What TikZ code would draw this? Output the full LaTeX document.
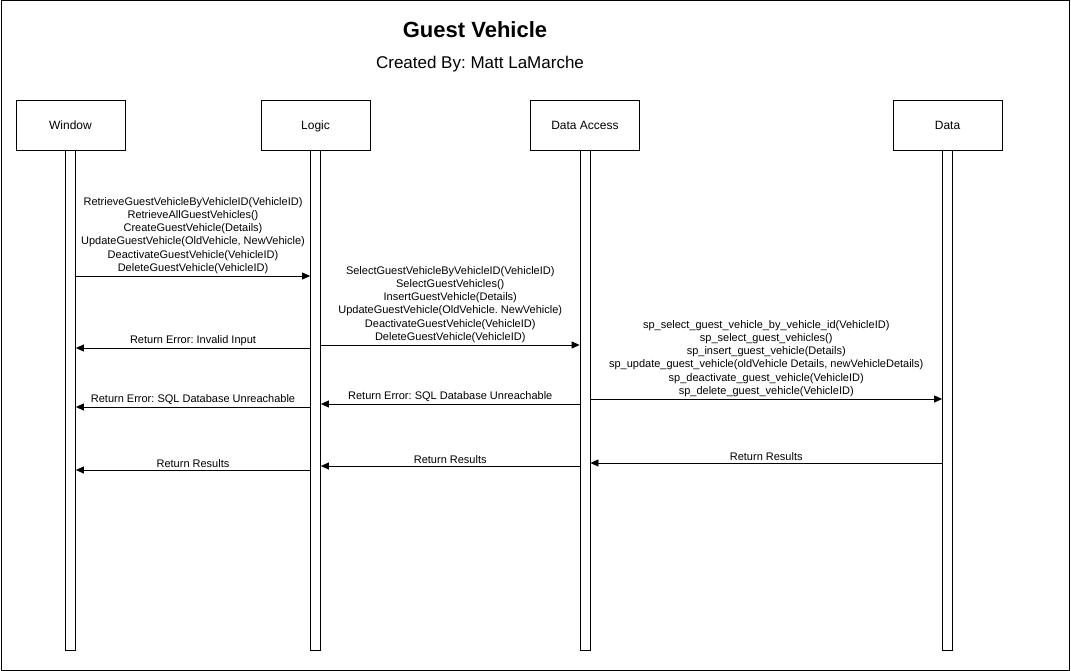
\documentclass[tikz,border=0pt]{standalone}
\usepackage{fontspec}
\setmainfont{Liberation Sans}
\frenchspacing
\usetikzlibrary{arrows.meta,positioning}
\begin{document}
\begin{tikzpicture}[x=1pt,y=-1pt,
    actor/.style={draw,line width=0.8pt,minimum width=109pt,minimum height=50pt,text height=8.6pt,text depth=0pt,font=\fontsize{12}{14}\selectfont},
    lifeline/.style={draw,line width=0.8pt,minimum width=10pt,minimum height=500pt,inner sep=0pt},
    msg/.style={line width=0.8pt,-{Triangle[length=8pt,width=7pt]}},
    lbl/.style={above,inner sep=2pt,align=center,font=\fontsize{11}{13.2}\selectfont}]
        \useasboundingbox (0,0) rectangle (1071,671);
        \draw[line width=1pt] (1,1) rectangle (1069,670);
        % title
        \node[font=\bfseries\fontsize{22}{26}\selectfont] (title) at (475,30) {Guest Vehicle};
        \node[font=\fontsize{17}{20}\selectfont] (author) at (480,64) {Created By: Matt LaMarche};
        % actors
        \node[actor] (win) at (70.5,125) {Window};
        \node[actor] (logic) at (315.5,125) {Logic};
        \node[actor] (dal) at (585,125) {Data Access};
        \node[actor] (data) at (947.5,125) {Data};
        % lifelines
        \node[lifeline,below=0pt of win] (winL) {};
        \node[lifeline,below=0pt of logic] (logicL) {};
        \node[lifeline,below=0pt of dal] (dalL) {};
        \node[lifeline,below=0pt of data] (dataL) {};
        % calls
        \draw[msg] (winL.east |- 0,276) -- (logicL.west |- 0,276)
            node[lbl,midway] {RetrieveGuestVehicleByVehicleID(VehicleID)\\RetrieveAllGuestVehicles()\\CreateGuestVehicle(Details)\\UpdateGuestVehicle(OldVehicle, NewVehicle)\\DeactivateGuestVehicle(VehicleID)\\DeleteGuestVehicle(VehicleID)};
        \draw[msg] (logicL.east |- 0,345) -- (dalL.west |- 0,345)
            node[lbl,midway] {SelectGuestVehicleByVehicleID(VehicleID)\\SelectGuestVehicles()\\InsertGuestVehicle(Details)\\UpdateGuestVehicle(OldVehicle. NewVehicle)\\DeactivateGuestVehicle(VehicleID)\\DeleteGuestVehicle(VehicleID)};
        \draw[msg] (dalL.east |- 0,399) -- (dataL.west |- 0,399)
            node[lbl,midway] {sp\_select\_guest\_vehicle\_by\_vehicle\_id(VehicleID)\\sp\_select\_guest\_vehicles()\\sp\_insert\_guest\_vehicle(Details)\\sp\_update\_guest\_vehicle(oldVehicle Details, newVehicleDetails)\\sp\_deactivate\_guest\_vehicle(VehicleID)\\sp\_delete\_guest\_vehicle(VehicleID)};
        % returns
        \draw[msg] (logicL.west |- 0,348) -- (winL.east |- 0,348)
            node[lbl,midway] {Return Error: Invalid Input};
        \draw[msg] (dalL.west |- 0,404) -- (logicL.east |- 0,404)
            node[lbl,midway] {Return Error: SQL Database Unreachable};
        \draw[msg] (logicL.west |- 0,407) -- (winL.east |- 0,407)
            node[lbl,midway] {Return Error: SQL Database Unreachable};
        \draw[msg] (dataL.west |- 0,463) -- (dalL.east |- 0,463)
            node[lbl,midway] {Return Results};
        \draw[msg] (dalL.west |- 0,466) -- (logicL.east |- 0,466)
            node[lbl,midway] {Return Results};
        \draw[msg] (logicL.west |- 0,470) -- (winL.east |- 0,470)
            node[lbl,midway] {Return Results};
\end{tikzpicture}
\end{document}
